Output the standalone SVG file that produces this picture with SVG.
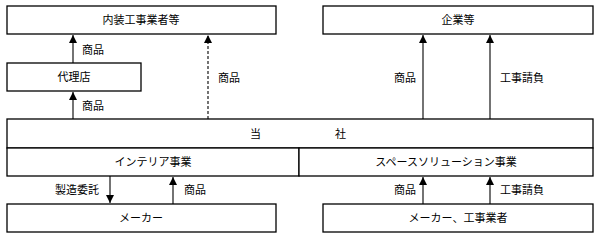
<svg xmlns="http://www.w3.org/2000/svg" width="599" height="239" viewBox="0 0 599 239">
<style>
.b{fill:#fff;stroke:#000;stroke-width:1.3}
.t{font-family:"Liberation Serif","Noto Sans CJK JP",serif;font-size:11px;fill:#000}
.c{text-anchor:middle}
.l{stroke:#000;stroke-width:1.1;fill:none}
.d{stroke-dasharray:3,2}
</style>
<defs>
<marker id="a" viewBox="0 0 10 10" refX="10" refY="5" markerWidth="8" markerHeight="10" markerUnits="userSpaceOnUse" orient="auto"><path d="M0,0L10,5L0,10z" fill="#000"/></marker>
</defs>
<rect width="599" height="239" fill="#fff"/>
<g id="connectors">
<line class="l" x1="73" y1="63" x2="73" y2="35" marker-end="url(#a)"/>
<line class="l" x1="73" y1="119" x2="73" y2="92" marker-end="url(#a)"/>
<line class="l d" x1="208" y1="119" x2="208" y2="35" marker-end="url(#a)"/>
<line class="l" x1="423" y1="119" x2="423" y2="35" marker-end="url(#a)"/>
<line class="l" x1="490" y1="119" x2="490" y2="35" marker-end="url(#a)"/>
<line class="l" x1="110" y1="176" x2="110" y2="203" marker-end="url(#a)"/>
<line class="l" x1="173" y1="204" x2="173" y2="177" marker-end="url(#a)"/>
<line class="l" x1="423" y1="204" x2="423" y2="177" marker-end="url(#a)"/>
<line class="l" x1="490" y1="204" x2="490" y2="177" marker-end="url(#a)"/>
<text class="t" x="82" y="54">商品</text>
<text class="t" x="82" y="110">商品</text>
<text class="t" x="218" y="82">商品</text>
<text class="t" x="394" y="82">商品</text>
<text class="t" x="500" y="82">工事請負</text>
<text class="t" x="55" y="194">製造委託</text>
<text class="t" x="184" y="194">商品</text>
<text class="t" x="394" y="194">商品</text>
<text class="t" x="500" y="194">工事請負</text>
</g>
<g id="naiso"><rect class="b" x="7" y="6" width="269" height="28"/><text class="t c" x="141" y="24">内装工事業者等</text></g>
<g id="dairiten"><rect class="b" x="7" y="63" width="134" height="28"/><text class="t c" x="74" y="81">代理店</text></g>
<g id="kigyo"><rect class="b" x="323" y="6" width="270" height="28"/><text class="t c" x="458" y="24">企業等</text></g>
<g id="tosha"><rect class="b" x="7" y="119" width="586" height="29"/><text class="t" x="250" y="138">当</text><text class="t" x="335" y="138">社</text></g>
<g id="interior"><rect class="b" x="7" y="148" width="292" height="28"/><text class="t c" x="153" y="166">インテリア事業</text></g>
<g id="space"><rect class="b" x="299" y="148" width="294" height="28"/><text class="t c" x="446" y="166">スペースソリューション事業</text></g>
<g id="maker"><rect class="b" x="7" y="204" width="269" height="28"/><text class="t c" x="141" y="222">メーカー</text></g>
<g id="maker2"><rect class="b" x="323" y="204" width="270" height="28"/><text class="t c" x="458" y="222">メーカー、工事業者</text></g>
</svg>
